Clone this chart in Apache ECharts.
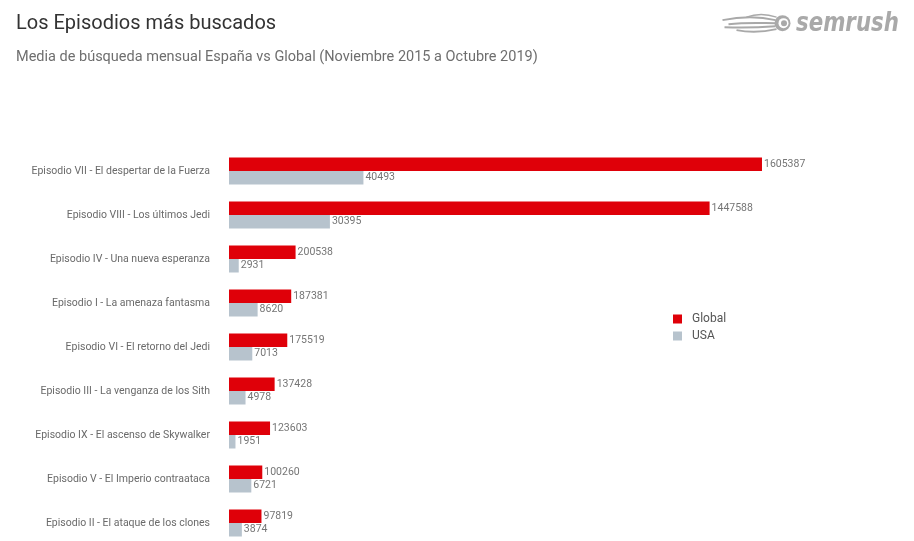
<!DOCTYPE html>
<html>
<head>
<meta charset="utf-8">
<script src="https://cdn.jsdelivr.net/npm/echarts@6/dist/echarts.min.js"></script>
<style>
html,body{margin:0;padding:0;background:#fff;}
#c{width:914px;height:541px;}
</style>
</head>
<body>
<div id="c"></div>
<script>
const categories = [
  "Episodio VII - El despertar de la Fuerza",
  "Episodio VIII - Los últimos Jedi",
  "Episodio IV - Una nueva esperanza",
  "Episodio I - La amenaza fantasma",
  "Episodio VI - El retorno del Jedi",
  "Episodio III - La venganza de los Sith",
  "Episodio IX - El ascenso de Skywalker",
  "Episodio V - El Imperio contraataca",
  "Episodio II - El ataque de los clones"
];
const globalValues = [1605387, 1447588, 200538, 187381, 175519, 137428, 123603, 100260, 97819];
const usaValues = [40493, 30395, 2931, 8620, 7013, 4978, 1951, 6721, 3874];
const seriesNames = ["Global", "USA"];
const globalMax = 2000000;
const usaMax = 200000;

const chart = echarts.init(document.getElementById('c'), null, {renderer: 'canvas'});
const FONT = 'Roboto';
const gray = '#a9a9a9';

const option = {
  backgroundColor: '#ffffff',
  animation: false,
  textStyle: {fontFamily: FONT},
  title: [
    {text: 'Los Episodios más buscados', left: 16, top: 14, padding: 0,
     textStyle: {fontFamily: FONT, fontSize: 20, fontWeight: 'normal', color: '#333'}},
    {text: 'Media de búsqueda mensual España vs Global (Noviembre 2015 a Octubre 2019)', left: 16, top: 50, padding: 0,
     textStyle: {fontFamily: FONT, fontSize: 14.5, fontWeight: 'normal', color: '#6e6e6e'}}
  ],
  legend: {
    orient: 'vertical', left: 673, top: 313, padding: 0,
    itemWidth: 9, itemHeight: 9, itemGap: 5, icon: 'rect',
    data: seriesNames,
    textStyle: {fontFamily: FONT, fontSize: 12, color: '#555', padding: [0,0,0,5]}
  },
  grid: {left: 229, width: 664, top: 149, height: 396, containLabel: false, outerBoundsMode: 'none'},
  xAxis: [
    {type: 'value', min: 0, max: globalMax, show: false},
    {type: 'value', min: 0, max: usaMax, show: false}
  ],
  yAxis: {
    type: 'category', data: categories, inverse: true,
    axisLine: {show: false}, axisTick: {show: false}, splitLine: {show: false},
    axisLabel: {fontFamily: FONT, fontSize: 10.5, color: '#6a6a6a', margin: 19}
  },
  series: [
    {name: seriesNames[0], type: 'bar', xAxisIndex: 0, data: globalValues,
     barWidth: 13.5, barGap: '0%',
     itemStyle: {color: '#df0009'},
     label: {show: true, position: 'right', distance: 2, fontFamily: FONT, fontSize: 10.5, color: '#757575'}},
    {name: seriesNames[1], type: 'bar', xAxisIndex: 1, data: usaValues,
     barWidth: 13.5, barGap: '0%',
     itemStyle: {color: '#b7c3cd'},
     label: {show: true, position: 'right', distance: 2, fontFamily: FONT, fontSize: 10.5, color: '#757575'}}
  ],
  graphic: [
    {type: 'group', left: 720, top: 12, children: [
      {type: 'bezierCurve', shape: {x1: 0, y1: 7, x2: 53, y2: 7, cpx1: 25, cpy1: 2, cpx2: 40, cpy2: 4}, style: {stroke: gray, lineWidth: 2, fill: null}},
      {type: 'bezierCurve', shape: {x1: 6, y1: 11, x2: 53, y2: 10, cpx1: 25, cpy1: 9, cpx2: 40, cpy2: 10}, style: {stroke: gray, lineWidth: 2, fill: null}},
      {type: 'bezierCurve', shape: {x1: 2, y1: 14, x2: 53, y2: 13, cpx1: 25, cpy1: 15, cpx2: 40, cpy2: 14}, style: {stroke: gray, lineWidth: 2, fill: null}},
      {type: 'bezierCurve', shape: {x1: 14, y1: 17, x2: 54, y2: 16, cpx1: 30, cpy1: 20, cpx2: 45, cpy2: 18}, style: {stroke: gray, lineWidth: 2, fill: null}},
      {type: 'bezierCurve', shape: {x1: 24, y1: 4, x2: 54, y2: 4, cpx1: 35, cpy1: 0, cpx2: 45, cpy2: 1}, style: {stroke: gray, lineWidth: 1.5, fill: null}},
      {type: 'circle', shape: {cx: 60, cy: 10, r: 8}, style: {fill: gray}},
      {type: 'circle', shape: {cx: 61, cy: 10, r: 5}, style: {fill: '#fff'}},
      {type: 'circle', shape: {cx: 61.5, cy: 10, r: 3}, style: {fill: gray}}
    ]},
    {type: 'text', left: 796, top: 11, scaleX: 0.82,
     style: {text: 'semrush', fontFamily: 'DejaVu Sans', fontWeight: 'bold', fontStyle: 'italic', fontSize: 26, fill: gray}}
  ]
};
chart.setOption(option);
</script>
</body>
</html>
